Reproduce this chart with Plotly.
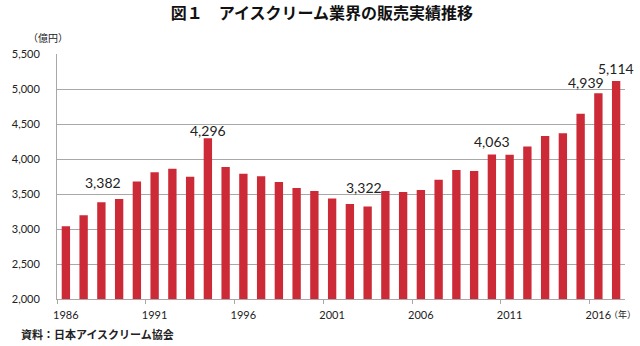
import plotly.graph_objects as go

years = list(range(1986, 2018))
sales = [3040, 3196, 3382, 3428, 3680, 3809, 3862, 3748, 4296, 3885,
         3790, 3752, 3671, 3585, 3542, 3434, 3357, 3322, 3542, 3528,
         3556, 3705, 3842, 3828, 4063, 4060, 4180, 4330, 4369, 4647,
         4939, 5114]
label_years = [1988, 1994, 2003, 2010, 2016, 2017]
label_dx = [2, 0, -4, 0, -12, 0]
label_gap = [14, 2, 13, 7, 5, 7]
tick_years = [1986, 1991, 1996, 2001, 2006, 2011, 2016]

title_text = "図１　アイスクリーム業界の販売実績推移"
unit_text = "（億円）"
year_text = "（年）"
source_text = "資料：日本アイスクリーム協会"

bar_color = "#cc2a36"
grid_color = "#a8a8a8"
num_font = "Lato, 'Open Sans', sans-serif"
jp_font = "'Noto Sans CJK JP', sans-serif"

fig = go.Figure()
fig.add_trace(go.Bar(x=years, y=sales, width=0.47, marker=dict(color=bar_color, line=dict(width=0)),
                     hoverinfo="x+y"))

annotations = []
for yr, dx, gap in zip(label_years, label_dx, label_gap):
    v = sales[years.index(yr)]
    annotations.append(dict(x=yr, y=v, xref="x", yref="y", text=f"{v:,}", showarrow=False,
                            yanchor="middle", xanchor="center", xshift=dx, yshift=gap + 6,
                            font=dict(family=num_font, size=14, color="#222")))

annotations += [
    dict(x=-0.0163, y=1.069, xref="paper", yref="paper", text=unit_text, showarrow=False,
         xanchor="center", yanchor="middle", font=dict(family=jp_font, size=10, color="#222")),
    dict(x=-0.0668, y=-0.143, xref="paper", yref="paper", text="<b>" + source_text + "</b>",
         showarrow=False, xanchor="left", yanchor="middle",
         font=dict(family=jp_font, size=11, color="#222")),
    dict(x=1.0235, y=-0.065, xref="paper", yref="paper", text=year_text, showarrow=False,
         xanchor="right", yanchor="middle", font=dict(family=jp_font, size=9, color="#222")),
]

fig.update_layout(
    width=640, height=346,
    margin=dict(l=41, r=15, t=54, b=47),
    paper_bgcolor="white", plot_bgcolor="white",
    showlegend=False,
    title=dict(text="<b>" + title_text + "</b>", x=0.503, xanchor="center", y=1 - 13 / 346,
               yanchor="middle", yref="container",
               font=dict(family=jp_font, size=16, color="#111")),
    annotations=annotations,
    xaxis=dict(range=[1985.5, 2017.5], tickmode="array", tickvals=tick_years,
               ticktext=[str(t) for t in tick_years], ticks="", showgrid=False,
               showline=True, linecolor=grid_color, linewidth=1, zeroline=False,
               ticklabelstandoff=6,
               tickfont=dict(family=num_font, size=11, color="#222"),
               minor=dict(tickmode="linear", tick0=1985.5, dtick=5, ticks="outside",
                          ticklen=4, tickcolor=grid_color, showgrid=False)),
    yaxis=dict(range=[2000, 5500], dtick=500, tickformat=",", showgrid=True,
               gridcolor=grid_color, gridwidth=1, showline=True, linecolor=grid_color,
               linewidth=1, zeroline=False, ticks="", ticklabelstandoff=14,
               tickfont=dict(family=num_font, size=11, color="#222")),
)

fig.write_html("out.html")
